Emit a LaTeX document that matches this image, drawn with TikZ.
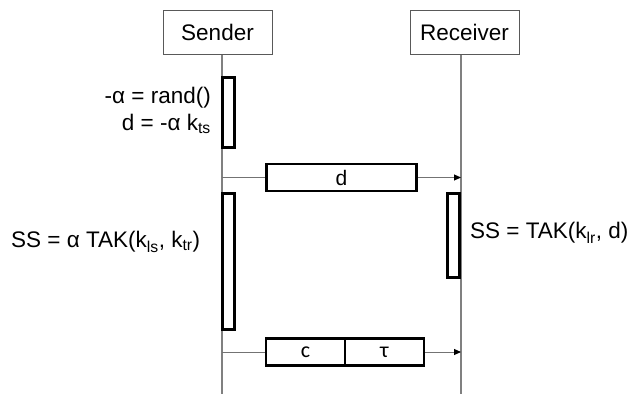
\documentclass[tikz,border=0pt]{standalone}
\usepackage{fontspec}
\setmainfont{Liberation Sans}
\newfontfamily\calfont{Carlito}
\usetikzlibrary{arrows.meta}

\begin{document}
\begin{tikzpicture}[x=1pt, y=-1pt,
    every node/.style={font=\fontsize{22.5}{27}\selectfont, inner sep=0pt},
    head/.style={draw=black!65, line width=1pt, minimum width=109pt, minimum height=44pt},
    bar/.style={draw, fill=white, line width=2.6pt, minimum width=12.5pt},
    msg/.style={draw, line width=2.6pt, minimum height=27pt, font=\fontsize{21}{24}\selectfont},
    msgc/.style={msg, minimum width=79pt, font=\calfont\fontsize{22}{24}\selectfont},
    life/.style={draw=black!50, line width=1.3pt},
    sig/.style={draw=black!55, line width=1pt}]
    \useasboundingbox (0,0) rectangle (631,394);
    \foreach \n/\t/\x/\l in {sender/Sender/217.5/222, receiver/Receiver/464.5/461} {
        \node[head] (\n) at (\x,32) {\t};
        \coordinate (\n foot) at (\l,394);
        \draw[life] (\n.south -| \n foot) -- (\n foot);
    }
    % activations
    \node[bar, minimum height=70pt] (sact1) at (228.5,112.5) {};
    \node[bar, minimum height=136pt] (sact2) at (228.5,261.5) {};
    \node[bar, minimum height=84pt] (ract) at (453.5,235.5) {};
    \node[anchor=east, align=right] (gen) at (211,110) {-α = rand()\\d = -α k\textsubscript{ts}};
    \node[anchor=west] (sss) at (11,242) {SS = α TAK(k\textsubscript{ls}, k\textsubscript{tr})};
    \node[anchor=west] (rss) at (470,233) {SS = TAK(k\textsubscript{lr}, d)};
    % messages
    \node[msg, minimum width=150pt] (md) at (341.5,177.5) {d};
    \node[msgc] (mc) at (305.5,352) {c};
    \node[msgc] (mt) at (384.5,352) {τ};
    \draw[sig] (md.west -| senderfoot) -- (md.west);
    \draw[sig, -{Triangle[length=7pt, width=6pt, black]}] (md.east) -- (md.east -| receiverfoot);
    \draw[sig] (mc.west -| senderfoot) -- (mc.west);
    \draw[sig, -{Triangle[length=7pt, width=6pt, black]}] (mt.east) -- (mt.east -| receiverfoot);
\end{tikzpicture}
\end{document}
